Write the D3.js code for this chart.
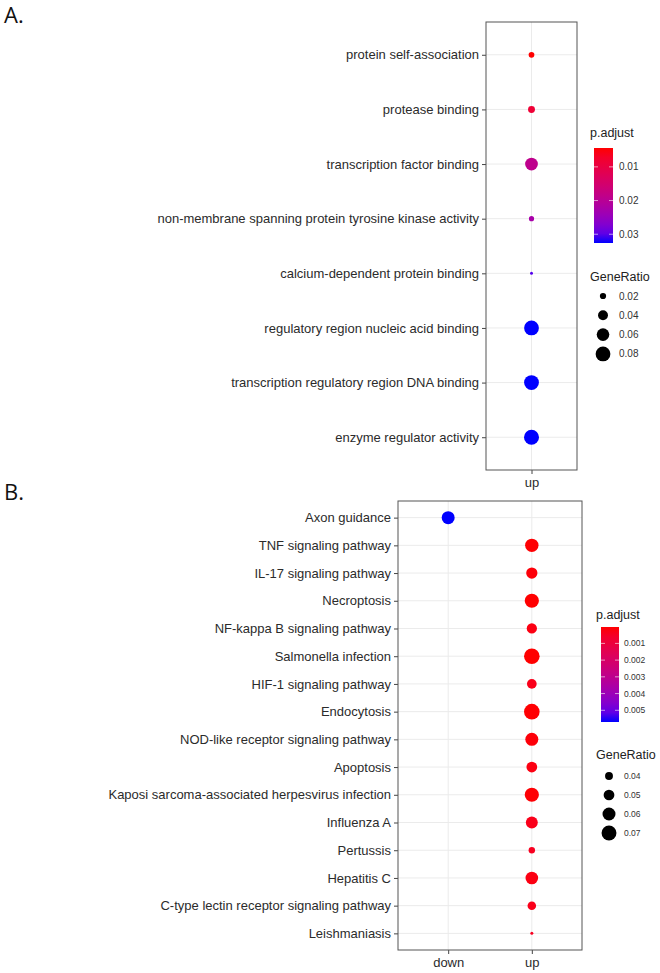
<!DOCTYPE html>
<html>
<head>
<meta charset="utf-8">
<script src="https://cdn.jsdelivr.net/npm/d3@7"></script>
<style>
  body { margin: 0; background: #fff; }
  svg { display: block; }
</style>
</head>
<body>
<div id="chart"></div>
<script>
// panel A: GO terms
const termsA = [
  "protein self-association",
  "protease binding",
  "transcription factor binding",
  "non-membrane spanning protein tyrosine kinase activity",
  "calcium-dependent protein binding",
  "regulatory region nucleic acid binding",
  "transcription regulatory region DNA binding",
  "enzyme regulator activity",
];
const groupA = ["up", "up", "up", "up", "up", "up", "up", "up"];
const ratioA = [0.018, 0.023, 0.061, 0.016, 0.010, 0.080, 0.080, 0.082];
const padjA = [0.0044, 0.0085, 0.019, 0.0225, 0.0305, 0.0326, 0.0326, 0.0326];
const xCatsA = ["up"];
const padjTicksA = [0.01, 0.02, 0.03];
const ratioTicksA = [0.02, 0.04, 0.06, 0.08];

// panel B: KEGG pathways
const termsB = [
  "Axon guidance",
  "TNF signaling pathway",
  "IL-17 signaling pathway",
  "Necroptosis",
  "NF-kappa B signaling pathway",
  "Salmonella infection",
  "HIF-1 signaling pathway",
  "Endocytosis",
  "NOD-like receptor signaling pathway",
  "Apoptosis",
  "Kaposi sarcoma-associated herpesvirus infection",
  "Influenza A",
  "Pertussis",
  "Hepatitis C",
  "C-type lectin receptor signaling pathway",
  "Leishmaniasis",
];
const groupB = ["down", "up", "up", "up", "up", "up", "up", "up",
  "up", "up", "up", "up", "up", "up", "up", "up"];
const ratioB = [0.060, 0.062, 0.052, 0.066, 0.048, 0.074, 0.046, 0.074,
  0.060, 0.050, 0.066, 0.055, 0.036, 0.058, 0.042, 0.030];
const padjB = [0.0057, 0.00005, 0.0001, 0.00003, 0.0002, 0.00002, 0.0003, 0.00004,
  0.0001, 0.0002, 0.00006, 0.0003, 0.0004, 0.0002, 0.0003, 0.0004];
const xCatsB = ["down", "up"];
const padjTicksB = [0.001, 0.002, 0.003, 0.004, 0.005];
const ratioTicksB = [0.04, 0.05, 0.06, 0.07];

const W = 660;
const H = 973;

const svg = d3
  .select("#chart")
  .append("svg")
  .attr("width", W)
  .attr("height", H)
  .attr("viewBox", [0, 0, W, H]);

const font = "Liberation Sans, Arial, sans-serif";

function drawDotPlot(cfg) {
  const g = svg.append("g");
  const p = cfg.plot;

  // discrete scales, ggplot-like expansion of 0.6
  const x = d3.scalePoint().domain(cfg.xCats).range([p.x0, p.x1]).padding(0.6);
  const y = d3.scalePoint().domain(cfg.terms).range([p.y0, p.y1]).padding(0.6);

  const color = d3
    .scaleLinear()
    .domain(d3.extent(cfg.padj))
    .range(["red", "blue"])
    .interpolate(d3.interpolateLab);

  const size = d3.scaleRadial().domain(cfg.ratioDomain).range(cfg.rRange);

  // grid
  g.append("g")
    .selectAll("line")
    .data(cfg.terms)
    .join("line")
    .attr("x1", p.x0)
    .attr("x2", p.x1)
    .attr("y1", (d) => y(d))
    .attr("y2", (d) => y(d))
    .attr("stroke", "#ebebeb")
    .attr("stroke-width", 1);
  g.append("g")
    .selectAll("line")
    .data(cfg.xCats)
    .join("line")
    .attr("x1", (d) => x(d))
    .attr("x2", (d) => x(d))
    .attr("y1", p.y0)
    .attr("y2", p.y1)
    .attr("stroke", "#ebebeb")
    .attr("stroke-width", 1);

  // points
  const rows = cfg.terms.map((t, i) => ({
    term: t,
    group: cfg.group[i],
    ratio: cfg.ratio[i],
    padj: cfg.padj[i],
  }));
  g.append("g")
    .selectAll("circle")
    .data(rows)
    .join("circle")
    .attr("cx", (d) => x(d.group))
    .attr("cy", (d) => y(d.term))
    .attr("r", (d) => size(d.ratio))
    .attr("fill", (d) => color(d.padj));

  // axes
  const yAxis = g
    .append("g")
    .attr("transform", `translate(${p.x0},0)`)
    .call(d3.axisLeft(y).tickSize(4).tickPadding(3));
  const xAxis = g
    .append("g")
    .attr("transform", `translate(0,${p.y1})`)
    .call(d3.axisBottom(x).tickSize(4).tickPadding(4));
  [yAxis, xAxis].forEach((a) => {
    a.select(".domain").remove();
    a.selectAll(".tick line").attr("stroke", "#444");
    a.selectAll("text")
      .attr("fill", "#2b2b2b")
      .attr("font-family", font)
      .attr("font-size", 13);
  });

  // panel border
  g.append("rect")
    .attr("x", p.x0)
    .attr("y", p.y0)
    .attr("width", p.x1 - p.x0)
    .attr("height", p.y1 - p.y0)
    .attr("fill", "none")
    .attr("stroke", "#555")
    .attr("stroke-width", 1);

  // panel letter
  svg.append("text")
    .attr("x", 4)
    .attr("y", cfg.letterY)
    .attr("font-family", "Open Sans, sans-serif")
    .attr("font-size", 22)
    .attr("fill", "#111")
    .text(cfg.letter);

  // colour legend
  const L = cfg.legend;
  g.append("text")
    .attr("x", L.x)
    .attr("y", L.titleY)
    .attr("font-family", font)
    .attr("font-size", 12.5)
    .attr("fill", "#222")
    .text("p.adjust");

  const gradId = `grad${cfg.letter[0]}`;
  const grad = svg
    .append("defs")
    .append("linearGradient")
    .attr("id", gradId)
    .attr("x1", 0)
    .attr("x2", 0)
    .attr("y1", 0)
    .attr("y2", 1);
  d3.range(0, 1.0001, 0.1).forEach((t) => {
    grad
      .append("stop")
      .attr("offset", t)
      .attr("stop-color", d3.interpolateLab("red", "blue")(t));
  });
  g.append("rect")
    .attr("x", L.barX)
    .attr("y", L.barY0)
    .attr("width", L.barW)
    .attr("height", L.barY1 - L.barY0)
    .attr("fill", `url(#${gradId})`);

  const cb = d3.scaleLinear().domain(d3.extent(cfg.padj)).range([L.barY0, L.barY1]);
  const ticks = g.append("g").selectAll("g").data(cfg.padjTicks).join("g");
  ticks.append("line")
    .attr("x1", L.barX)
    .attr("x2", L.barX + 4)
    .attr("y1", (d) => cb(d))
    .attr("y2", (d) => cb(d))
    .attr("stroke", "#fff")
    .attr("stroke-opacity", 0.6);
  ticks.append("line")
    .attr("x1", L.barX + L.barW - 4)
    .attr("x2", L.barX + L.barW)
    .attr("y1", (d) => cb(d))
    .attr("y2", (d) => cb(d))
    .attr("stroke", "#fff")
    .attr("stroke-opacity", 0.6);
  ticks.append("text")
    .attr("x", L.labelX)
    .attr("y", (d) => cb(d))
    .attr("dy", "0.35em")
    .attr("font-family", font)
    .attr("font-size", L.labelSize)
    .attr("fill", "#333")
    .text((d) => d);

  // size legend
  g.append("text")
    .attr("x", L.x)
    .attr("y", L.sizeTitleY)
    .attr("font-family", font)
    .attr("font-size", 12.5)
    .attr("fill", "#222")
    .text("GeneRatio");
  const items = g
    .append("g")
    .selectAll("g")
    .data(cfg.ratioTicks)
    .join("g")
    .attr("transform", (d, i) => `translate(0,${L.sizeY0 + i * L.sizeStep})`);
  items.append("circle")
    .attr("cx", L.dotX)
    .attr("r", (d) => size(d))
    .attr("fill", "#000");
  items.append("text")
    .attr("x", L.labelX)
    .attr("dy", "0.35em")
    .attr("font-family", font)
    .attr("font-size", L.labelSize)
    .attr("fill", "#333")
    .text((d) => d);
}

drawDotPlot({
  letter: "A.",
  letterY: 23,
  terms: termsA,
  group: groupA,
  ratio: ratioA,
  padj: padjA,
  xCats: xCatsA,
  padjTicks: padjTicksA,
  ratioTicks: ratioTicksA,
  ratioDomain: [0.01, 0.082],
  rRange: [1.5, 7.5],
  plot: { x0: 486, x1: 577, y0: 22, y1: 470 },
  legend: {
    x: 590, titleY: 137,
    barX: 594, barW: 19, barY0: 148, barY1: 243,
    labelX: 619, labelSize: 10,
    sizeTitleY: 281, sizeY0: 296, sizeStep: 19.3, dotX: 603,
  },
});

drawDotPlot({
  letter: "B.",
  letterY: 500,
  terms: termsB,
  group: groupB,
  ratio: ratioB,
  padj: padjB,
  xCats: xCatsB,
  padjTicks: padjTicksB,
  ratioTicks: ratioTicksB,
  ratioDomain: [0.03, 0.074],
  rRange: [1.5, 7.8],
  plot: { x0: 398, x1: 582, y0: 501, y1: 950 },
  legend: {
    x: 596, titleY: 619,
    barX: 601, barW: 18, barY0: 627, barY1: 722,
    labelX: 624, labelSize: 8.5,
    sizeTitleY: 759, sizeY0: 776, sizeStep: 19, dotX: 609,
  },
});
</script>
</body>
</html>
